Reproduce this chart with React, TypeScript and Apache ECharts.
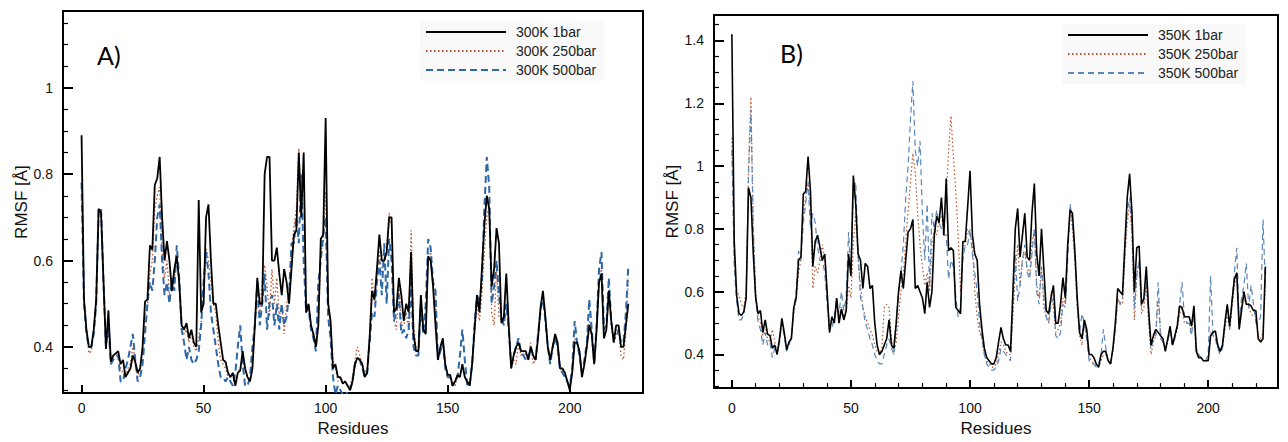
import React, { useEffect, useRef } from "react";
import * as echarts from "echarts";

// Residue index 0..224 (x categories)
const residues: number[] = Array.from({ length: 225 }, (_, i) => i);

// ---- Panel A: 300 K ----
const rmsf300K1bar = [
  0.89,0.51,0.44,0.40,0.40,0.44,0.51,0.72,0.71,0.55,
  0.395,0.485,0.365,0.38,0.385,0.39,0.36,0.37,0.33,0.34,
  0.35,0.38,0.365,0.34,0.35,0.40,0.505,0.51,0.635,0.625,
  0.775,0.79,0.84,0.70,0.60,0.645,0.60,0.53,0.58,0.61,
  0.55,0.45,0.44,0.455,0.42,0.44,0.41,0.40,0.74,0.48,
  0.50,0.70,0.73,0.60,0.50,0.50,0.45,0.41,0.37,0.365,
  0.34,0.33,0.34,0.31,0.34,0.345,0.39,0.35,0.33,0.32,
  0.35,0.45,0.56,0.50,0.50,0.80,0.84,0.84,0.60,0.60,
  0.63,0.57,0.52,0.58,0.55,0.50,0.58,0.66,0.67,0.85,
  0.70,0.85,0.48,0.50,0.45,0.43,0.40,0.45,0.65,0.66,
  0.93,0.50,0.46,0.35,0.36,0.33,0.33,0.315,0.32,0.31,
  0.30,0.32,0.36,0.375,0.37,0.36,0.33,0.34,0.42,0.53,
  0.51,0.58,0.66,0.60,0.60,0.62,0.70,0.70,0.48,0.49,
  0.56,0.52,0.46,0.50,0.48,0.62,0.43,0.39,0.39,0.52,
  0.44,0.43,0.61,0.60,0.54,0.45,0.37,0.40,0.42,0.36,
  0.335,0.335,0.31,0.32,0.335,0.33,0.36,0.33,0.32,0.31,
  0.36,0.44,0.52,0.48,0.58,0.68,0.75,0.72,0.54,0.58,
  0.675,0.64,0.455,0.47,0.57,0.45,0.35,0.38,0.40,0.41,
  0.39,0.39,0.39,0.37,0.40,0.38,0.37,0.42,0.49,0.53,
  0.47,0.40,0.37,0.40,0.43,0.41,0.35,0.35,0.34,0.32,
  0.30,0.34,0.41,0.41,0.39,0.33,0.36,0.40,0.45,0.43,
  0.36,0.44,0.55,0.57,0.42,0.44,0.53,0.46,0.41,0.45,
  0.45,0.40,0.40,0.45,0.50,
];
const rmsf300K250bar = [
  0.78,0.51,0.44,0.385,0.39,0.44,0.51,0.71,0.70,0.55,
  0.40,0.47,0.37,0.38,0.385,0.38,0.35,0.34,0.33,0.35,
  0.36,0.40,0.37,0.33,0.35,0.40,0.47,0.50,0.57,0.60,
  0.72,0.75,0.77,0.62,0.56,0.60,0.52,0.53,0.56,0.60,
  0.54,0.45,0.43,0.44,0.41,0.43,0.40,0.39,0.42,0.46,
  0.52,0.63,0.60,0.55,0.50,0.48,0.41,0.37,0.36,0.35,
  0.33,0.33,0.33,0.32,0.34,0.35,0.38,0.34,0.33,0.32,
  0.36,0.46,0.50,0.48,0.55,0.59,0.54,0.47,0.58,0.50,
  0.56,0.47,0.50,0.43,0.50,0.52,0.62,0.68,0.72,0.86,
  0.74,0.83,0.48,0.50,0.45,0.42,0.40,0.45,0.62,0.64,
  0.76,0.52,0.45,0.37,0.35,0.32,0.33,0.32,0.32,0.31,
  0.31,0.33,0.37,0.40,0.38,0.36,0.34,0.35,0.43,0.56,
  0.50,0.57,0.62,0.57,0.60,0.62,0.71,0.68,0.46,0.44,
  0.55,0.45,0.45,0.48,0.44,0.67,0.45,0.40,0.39,0.50,
  0.44,0.43,0.60,0.62,0.55,0.50,0.38,0.40,0.41,0.36,
  0.33,0.33,0.32,0.31,0.33,0.33,0.36,0.33,0.32,0.31,
  0.36,0.43,0.50,0.46,0.52,0.62,0.70,0.73,0.48,0.45,
  0.58,0.47,0.46,0.46,0.50,0.44,0.35,0.37,0.36,0.41,
  0.38,0.39,0.38,0.37,0.41,0.36,0.37,0.42,0.48,0.52,
  0.47,0.40,0.37,0.40,0.42,0.41,0.35,0.35,0.34,0.32,
  0.31,0.35,0.42,0.41,0.38,0.33,0.36,0.40,0.46,0.42,
  0.36,0.45,0.55,0.58,0.42,0.44,0.52,0.45,0.41,0.44,
  0.44,0.38,0.37,0.44,0.56,
];
const rmsf300K500bar = [
  0.78,0.50,0.43,0.40,0.40,0.43,0.50,0.72,0.72,0.55,
  0.40,0.45,0.36,0.37,0.38,0.38,0.32,0.32,0.35,0.37,
  0.40,0.43,0.37,0.32,0.33,0.36,0.43,0.50,0.55,0.53,
  0.60,0.70,0.73,0.60,0.52,0.55,0.50,0.56,0.53,0.635,
  0.56,0.44,0.41,0.37,0.40,0.37,0.36,0.37,0.39,0.45,
  0.55,0.62,0.57,0.48,0.44,0.40,0.36,0.33,0.33,0.32,
  0.33,0.32,0.31,0.34,0.40,0.45,0.36,0.31,0.31,0.33,
  0.40,0.45,0.55,0.45,0.50,0.57,0.44,0.50,0.52,0.45,
  0.50,0.44,0.50,0.45,0.47,0.52,0.64,0.64,0.70,0.64,
  0.80,0.60,0.48,0.49,0.44,0.42,0.39,0.55,0.60,0.66,
  0.70,0.47,0.42,0.33,0.29,0.31,0.30,0.29,0.28,0.30,
  0.30,0.32,0.36,0.37,0.37,0.35,0.33,0.34,0.41,0.48,
  0.47,0.55,0.60,0.52,0.64,0.50,0.65,0.60,0.46,0.48,
  0.52,0.43,0.44,0.42,0.44,0.55,0.40,0.38,0.38,0.50,
  0.43,0.50,0.65,0.63,0.55,0.53,0.37,0.39,0.41,0.35,
  0.33,0.33,0.31,0.32,0.33,0.38,0.44,0.37,0.31,0.31,
  0.36,0.45,0.52,0.50,0.55,0.72,0.84,0.77,0.50,0.54,
  0.60,0.52,0.47,0.45,0.50,0.44,0.36,0.38,0.40,0.42,
  0.39,0.38,0.37,0.37,0.40,0.38,0.37,0.43,0.48,0.52,
  0.46,0.40,0.36,0.40,0.42,0.40,0.35,0.34,0.33,0.32,
  0.31,0.35,0.46,0.41,0.38,0.34,0.37,0.41,0.51,0.44,
  0.36,0.45,0.58,0.62,0.44,0.45,0.56,0.46,0.42,0.42,
  0.44,0.41,0.41,0.48,0.59,
];

// ---- Panel B: 350 K ----
const rmsf350K1bar = [
  1.42,0.76,0.59,0.53,0.525,0.535,0.58,0.93,0.90,0.72,
  0.58,0.53,0.54,0.47,0.51,0.465,0.46,0.42,0.43,0.40,
  0.45,0.515,0.47,0.415,0.44,0.45,0.55,0.58,0.70,0.71,
  0.91,0.92,1.03,0.92,0.68,0.76,0.78,0.74,0.70,0.72,
  0.60,0.47,0.52,0.50,0.58,0.50,0.545,0.51,0.54,0.72,
  0.65,0.97,0.88,0.72,0.70,0.61,0.69,0.68,0.61,0.62,
  0.50,0.43,0.40,0.41,0.43,0.45,0.51,0.43,0.42,0.50,
  0.60,0.666,0.61,0.70,0.79,0.80,0.83,0.61,0.62,0.60,
  0.58,0.53,0.63,0.55,0.60,0.78,0.84,0.82,0.90,0.78,
  0.96,0.73,0.74,0.73,0.55,0.54,0.53,0.76,0.76,0.87,
  0.985,0.78,0.72,0.70,0.56,0.48,0.42,0.39,0.38,0.37,
  0.37,0.39,0.44,0.486,0.45,0.43,0.43,0.41,0.60,0.80,
  0.865,0.71,0.78,0.85,0.71,0.70,0.85,0.944,0.72,0.65,
  0.80,0.67,0.54,0.53,0.58,0.62,0.50,0.50,0.56,0.645,
  0.58,0.75,0.86,0.85,0.73,0.58,0.47,0.45,0.51,0.48,
  0.40,0.40,0.39,0.37,0.36,0.40,0.41,0.41,0.38,0.37,
  0.42,0.50,0.61,0.60,0.59,0.75,0.90,0.975,0.85,0.60,
  0.74,0.745,0.56,0.58,0.68,0.54,0.43,0.46,0.48,0.47,
  0.46,0.45,0.41,0.45,0.49,0.43,0.46,0.49,0.555,0.55,
  0.52,0.52,0.52,0.49,0.555,0.41,0.39,0.39,0.38,0.38,
  0.38,0.46,0.47,0.475,0.43,0.41,0.43,0.50,0.56,0.49,
  0.57,0.64,0.66,0.48,0.54,0.60,0.56,0.56,0.555,0.54,
  0.54,0.45,0.44,0.45,0.68,
];
const rmsf350K250bar = [
  1.09,0.70,0.60,0.59,0.56,0.55,0.60,1.00,1.22,0.80,
  0.60,0.52,0.50,0.46,0.48,0.45,0.44,0.48,0.44,0.41,
  0.44,0.50,0.46,0.42,0.43,0.46,0.53,0.58,0.66,0.70,
  0.85,0.90,0.95,0.87,0.61,0.68,0.66,0.70,0.75,0.70,
  0.58,0.48,0.50,0.51,0.55,0.52,0.55,0.52,0.53,0.62,
  0.58,0.75,0.85,0.70,0.62,0.55,0.52,0.50,0.48,0.46,
  0.43,0.41,0.40,0.42,0.55,0.56,0.55,0.45,0.40,0.44,
  0.52,0.60,0.66,0.76,0.86,0.95,1.04,0.98,0.85,0.75,
  0.68,0.62,0.66,0.60,0.75,0.80,0.78,0.83,0.84,0.80,
  0.90,1.05,1.16,1.03,0.92,0.78,0.60,0.72,0.75,0.80,
  0.78,0.75,0.60,0.52,0.47,0.45,0.40,0.38,0.37,0.36,
  0.36,0.37,0.40,0.44,0.43,0.41,0.40,0.40,0.52,0.66,
  0.75,0.62,0.70,0.72,0.68,0.65,0.75,0.80,0.62,0.58,
  0.68,0.55,0.52,0.50,0.60,0.55,0.47,0.48,0.50,0.58,
  0.56,0.72,0.86,0.80,0.70,0.55,0.46,0.43,0.50,0.45,
  0.39,0.38,0.37,0.36,0.36,0.38,0.40,0.40,0.38,0.37,
  0.41,0.48,0.58,0.56,0.56,0.70,0.82,0.88,0.78,0.51,
  0.65,0.70,0.53,0.55,0.62,0.50,0.40,0.44,0.46,0.58,
  0.47,0.44,0.42,0.44,0.48,0.43,0.45,0.48,0.53,0.55,
  0.50,0.50,0.50,0.47,0.53,0.42,0.40,0.39,0.38,0.38,
  0.39,0.47,0.46,0.45,0.42,0.41,0.42,0.48,0.53,0.48,
  0.55,0.62,0.66,0.50,0.55,0.58,0.56,0.55,0.53,0.52,
  0.52,0.46,0.45,0.47,0.62,
];
const rmsf350K500bar = [
  1.05,0.68,0.57,0.51,0.51,0.53,0.58,0.98,1.18,0.80,
  0.58,0.50,0.48,0.43,0.47,0.43,0.44,0.39,0.42,0.40,
  0.44,0.50,0.46,0.41,0.43,0.46,0.55,0.60,0.73,0.70,
  0.82,0.88,0.95,0.80,0.85,0.82,0.74,0.70,0.70,0.66,
  0.56,0.48,0.48,0.52,0.58,0.53,0.60,0.54,0.58,0.79,
  0.66,0.92,0.95,0.72,0.58,0.55,0.50,0.48,0.45,0.43,
  0.40,0.38,0.37,0.37,0.40,0.43,0.45,0.42,0.40,0.50,
  0.60,0.66,0.75,0.90,1.00,1.15,1.27,1.05,1.00,1.08,
  0.85,0.70,0.88,0.62,0.85,0.80,0.86,0.82,0.80,0.78,
  0.78,0.64,0.70,0.68,0.58,0.52,0.55,0.70,0.75,0.75,
  0.80,0.72,0.66,0.60,0.50,0.45,0.40,0.37,0.36,0.35,
  0.35,0.36,0.38,0.42,0.41,0.40,0.39,0.38,0.55,0.72,
  0.57,0.62,0.70,0.75,0.66,0.64,0.72,0.80,0.60,0.56,
  0.68,0.58,0.52,0.50,0.56,0.58,0.46,0.45,0.47,0.56,
  0.55,0.70,0.88,0.82,0.72,0.56,0.47,0.53,0.50,0.45,
  0.38,0.37,0.37,0.36,0.37,0.40,0.48,0.42,0.38,0.37,
  0.42,0.48,0.58,0.56,0.58,0.72,0.86,0.90,0.80,0.55,
  0.65,0.70,0.55,0.57,0.63,0.52,0.42,0.45,0.46,0.63,
  0.45,0.44,0.42,0.44,0.48,0.43,0.45,0.50,0.56,0.63,
  0.52,0.50,0.50,0.46,0.53,0.42,0.40,0.39,0.38,0.38,
  0.40,0.65,0.46,0.45,0.42,0.40,0.42,0.50,0.56,0.48,
  0.57,0.66,0.74,0.50,0.58,0.62,0.69,0.55,0.62,0.56,
  0.50,0.50,0.52,0.83,0.62,
];

// Tick values
const xMajorTicks = [0, 50, 100, 150, 200];
const xMinorTicks = [10, 20, 30, 40, 60, 70, 80, 90, 110, 120, 130, 140, 160, 170, 180, 190, 210, 220];
const yMajorTicksA = [0.4, 0.6, 0.8, 1];
const yMinorTicksA = [0.3, 0.35, 0.45, 0.5, 0.55, 0.65, 0.7, 0.75, 0.85, 0.9, 0.95, 1.05, 1.1, 1.15];
const yMajorTicksB = [0.4, 0.6, 0.8, 1, 1.2, 1.4];
const yMinorTicksB = [0.3, 0.35, 0.45, 0.5, 0.55, 0.65, 0.7, 0.75, 0.85, 0.9, 0.95, 1.05, 1.1, 1.15, 1.25, 1.3, 1.35, 1.45];

const namesA = ["300K 1bar", "300K 250bar", "300K 500bar"];
const namesB = ["350K 1bar", "350K 250bar", "350K 500bar"];

const FONT = "'Liberation Sans', Arial, Helvetica, sans-serif";
const BROWN = "#b4532f";
const BLUE_A = "#2f68a6";
const BLUE_B = "#5a86b8";

function pairs(values: number[]) {
  return residues.map((r, i) => [r, values[i]]);
}

function majorX(gridIndex: number, min: number, max: number, labelMargin: number, nameGap: number) {
  return {
    type: "value", gridIndex, min, max, position: "bottom",
    axisLine: { show: true, onZero: false, lineStyle: { color: "#000", width: 2 } },
    splitLine: { show: false },
    axisTick: { show: true, inside: true, length: 8, customValues: xMajorTicks, lineStyle: { color: "#000", width: 2 } },
    axisLabel: { show: true, customValues: xMajorTicks, margin: labelMargin, color: "#111", fontSize: 14, fontFamily: FONT },
    name: "Residues", nameLocation: "middle", nameGap,
    nameTextStyle: { color: "#111", fontSize: 17, fontFamily: FONT },
  };
}
function minorX(gridIndex: number, min: number, max: number) {
  return {
    type: "value", gridIndex, min, max, position: "bottom",
    axisLine: { show: false, onZero: false }, splitLine: { show: false },
    axisLabel: { show: false },
    axisTick: { show: true, inside: true, length: 5, customValues: xMinorTicks, lineStyle: { color: "#000", width: 1.2 } },
  };
}
function majorY(gridIndex: number, min: number, max: number, ticks: number[], nameGap: number) {
  return {
    type: "value", gridIndex, min, max, position: "left",
    axisLine: { show: true, onZero: false, lineStyle: { color: "#000", width: 2 } }, splitLine: { show: false },
    axisTick: { show: true, inside: true, length: 10, customValues: ticks, lineStyle: { color: "#000", width: 2 } },
    axisLabel: { show: true, customValues: ticks, margin: 10, color: "#111", fontSize: 14, fontFamily: FONT },
    name: "RMSF [Å]", nameLocation: "middle", nameGap, nameRotate: 90,
    nameTextStyle: { color: "#111", fontSize: 17, fontFamily: FONT },
  };
}
function minorY(gridIndex: number, min: number, max: number, ticks: number[]) {
  return {
    type: "value", gridIndex, min, max, position: "left",
    axisLine: { show: false, onZero: false }, splitLine: { show: false },
    axisLabel: { show: false },
    axisTick: { show: true, inside: true, length: 5, customValues: ticks, lineStyle: { color: "#000", width: 1.2 } },
  };
}

function lineSeries(name: string, values: number[], xi: number, yi: number, color: string, width: number, type: any, z: number) {
  return {
    type: "line", name, data: pairs(values), xAxisIndex: xi, yAxisIndex: yi,
    symbol: "none", showSymbol: false, clip: true, z,
    lineStyle: { color, width, type },
    itemStyle: { color, opacity: 0 },
  };
}

function legendFor(names: string[], left: number, top: number) {
  return {
    data: names, orient: "vertical", left, top,
    itemWidth: 80, itemHeight: 12, itemGap: 5,
    backgroundColor: "#f9f9f9", padding: [4, 8, 4, 5],
    itemStyle: { opacity: 0 },
    textStyle: { fontSize: 14, fontFamily: FONT, color: "#222", padding: [0, 0, 0, 5] },
    selectedMode: false,
  };
}

export default function App() {
  const ref = useRef<HTMLDivElement>(null);
  useEffect(() => {
    document.body.style.margin = "0";
    const chart = echarts.init(ref.current!, null, { renderer: "svg" });
    const option: any = {
      animation: false,
      backgroundColor: "#fff",
      grid: [
        { left: 63, top: 11, width: 580, height: 385, show: true, borderColor: "#000", borderWidth: 2, containLabel: false },
        { left: 714, top: 15, width: 564, height: 376, show: true, borderColor: "#000", borderWidth: 2, containLabel: false },
      ],
      xAxis: [
        majorX(0, -7.6, 230, 8, 24),
        majorX(1, -7.5, 229.3, 13, 30),
        minorX(1, -7.5, 229.3),
      ],
      yAxis: [
        minorY(0, 0.293, 1.178, yMinorTicksA),
        majorY(0, 0.293, 1.178, yMajorTicksA, 31),
        minorY(1, 0.293, 1.481, yMinorTicksB),
        majorY(1, 0.293, 1.481, yMajorTicksB, 27),
      ],
      legend: [legendFor(namesA, 420, 21), legendFor(namesB, 1062, 24)],
      graphic: [
        { type: "text", left: 97, top: 42, style: { text: "A)", font: "25px Lato, 'Open Sans', sans-serif", fill: "#000" } },
        { type: "text", left: 780, top: 40, style: { text: "B)", font: "25px Lato, 'Open Sans', sans-serif", fill: "#000" } },
      ],
      series: [
        lineSeries(namesA[1], rmsf300K250bar, 0, 1, BROWN, 1.3, [1.5, 2.5], 2),
        lineSeries(namesA[2], rmsf300K500bar, 0, 1, BLUE_A, 2, [7, 4], 3),
        lineSeries(namesA[0], rmsf300K1bar, 0, 1, "#000", 1.8, "solid", 4),
        lineSeries(namesB[1], rmsf350K250bar, 1, 3, BROWN, 1.2, [1.5, 2.5], 2),
        lineSeries(namesB[2], rmsf350K500bar, 1, 3, BLUE_B, 1.2, [6, 4], 3),
        lineSeries(namesB[0], rmsf350K1bar, 1, 3, "#000", 1.6, "solid", 4),
      ],
    };
    chart.setOption(option);
    return () => chart.dispose();
  }, []);
  return <div ref={ref} style={{ width: 1288, height: 442 }} />;
}
